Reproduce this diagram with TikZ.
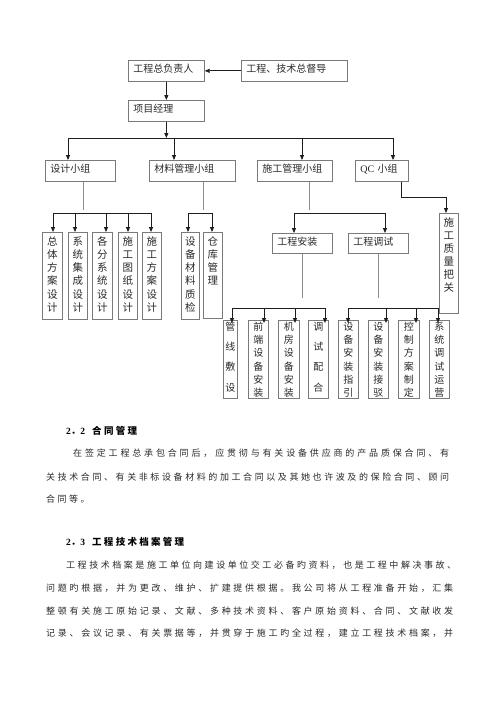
\documentclass[tikz,border=0pt]{standalone}
\usepackage{fontspec}
\setmainfont{Liberation Serif}
\newfontfamily\cjk{Noto Sans CJK SC}
\usetikzlibrary{arrows.meta,calc}
\definecolor{boxc}{HTML}{7A7A7A}
\definecolor{linec}{HTML}{1E1E1E}
\definecolor{stubc}{HTML}{8C8C8C}
\definecolor{txtc}{HTML}{2A2A2A}
\makeatletter
\def\spreadline#1{\spA#1\spEnd}
\def\spA#1#2\spEnd{#1\if\relax\detokenize{#2}\relax\else\hfill\spA#2\spEnd\fi}
\def\vchars#1{\vcA#1\relax}
\def\vcA#1{\ifx\relax#1\else\hbox{#1}\expandafter\vcA\fi}
\makeatother
\newcommand\VT[2]{\vtop{\baselineskip=#1\lineskiplimit=-100pt\lineskip=0pt\vchars{#2}}}
\newcommand\SL[2]{\makebox[#1][l]{\spreadline{#2}}}
\begin{document}
\begin{tikzpicture}[x=1pt,y=-1pt,
  hb/.style={draw=boxc, line width=0.7pt, anchor=north west, inner xsep=5pt, inner ysep=0pt,
    align=left, text=txtc, font=\cjk\fontsize{10}{12}\selectfont, text height=12pt, text depth=9pt},
  vb/.style={draw=boxc, line width=0.7pt, anchor=north west, inner sep=0pt, text=txtc,
    font=\cjk\fontsize{10.5}{13}\selectfont, text height=13pt},
  bb/.style={draw=boxc, line width=0.7pt, anchor=north west, inner sep=0pt, text=txtc,
    font=\cjk\fontsize{10}{12}\selectfont, text height=9.8pt, text depth=68.2pt},
  arr/.style={draw=linec, line width=0.8pt, -{Triangle[length=5pt,width=4pt]}},
  ln/.style={draw=linec, line width=0.8pt},
  stub/.style={draw=stubc, line width=1pt},
  para/.style={anchor=west, inner sep=0pt, text=txtc, font=\cjk\fontsize{9}{11}\selectfont},
  head/.style={anchor=west, inner sep=0pt, text=black, font=\bfseries\fontsize{9.5}{11}\selectfont}
]
\fill[white] (0,0) rectangle (500,707);
\useasboundingbox (0,0) rectangle (500,707);

% top boxes
\node[hb, text width=66pt] (zfr) at (128,60) {工程总负责人};
\node[hb, text width=96pt] (dd) at (241,60) {工程、技术总督导};
\node[hb, text width=66pt] (xm) at (128,100) {项目经理};
% group boxes
\node[hb, text width=60pt] (sj) at (45,160) {设计小组};
\node[hb, text width=76pt] (cl) at (149,160) {材料管理小组};
\node[hb, text width=65pt] (sg) at (257,160) {施工管理小组};
\node[hb, text width=43pt] (qc) at (355,160) {{\rmfamily QC} 小组};
% second-level horizontal boxes
\node[hb, text width=50pt, text depth=8pt] (az) at (272,233) {工程安装};
\node[hb, text width=50pt, text depth=8pt] (ts) at (348,233) {工程调试};

% vertical boxes
\node[vb, minimum width=20pt, text depth=74pt] (v1) at (42,232) {\VT{13.2pt}{总体方案设计}};
\node[vb, minimum width=19pt, text depth=74pt] (v2) at (68,232) {\VT{13.2pt}{系统集成设计}};
\node[vb, minimum width=20pt, text depth=74pt] (v3) at (92,232) {\VT{13.2pt}{各分系统设计}};
\node[vb, minimum width=19pt, text depth=74pt] (v4) at (118,232) {\VT{13.2pt}{施工图纸设计}};
\node[vb, minimum width=19pt, text depth=74pt] (v5) at (142,232) {\VT{13.2pt}{施工方案设计}};
\node[vb, minimum width=18pt, text depth=74pt] (v6) at (181,232) {\VT{13.2pt}{设备材料质检}};
\node[vb, minimum width=19pt, text depth=73pt] (v7) at (203,232) {\VT{13.2pt}{仓库管理}};
\node[vb, minimum width=19pt, text depth=87pt] (zl) at (439,213) {\VT{13pt}{施工质量把关}};

% bottom boxes
\node[bb, minimum width=14pt] (b1) at (223,320) {\VT{20.3pt}{管线敷设}};
\node[bb, minimum width=20pt] (b2) at (248,320) {\VT{13.3pt}{前端设备安装}};
\node[bb, minimum width=21pt] (b3) at (278,320) {\VT{13.3pt}{机房设备安装}};
\node[bb, minimum width=20pt] (b4) at (308,320) {\VT{20.3pt}{调试配合}};
\node[bb, minimum width=20pt] (b5) at (338,320) {\VT{13.3pt}{设备安装指引}};
\node[bb, minimum width=20pt] (b6) at (368,320) {\VT{13.3pt}{设备安装接驳}};
\node[bb, minimum width=21pt] (b7) at (398,320) {\VT{13.3pt}{控制方案制定}};
\node[bb, minimum width=20pt] (b8) at (429,320) {\VT{13.3pt}{系统调试运营}};

% top connectors
\draw[arr] (dd.west) -- (zfr.east);
\draw[arr] (zfr.south) -- (xm.north);
\coordinate (t0) at (68,138);
\coordinate (t1) at (174,138);
\coordinate (t2) at (302,138);
\coordinate (t3) at (393,138);
\draw[arr] (xm.south) -- (xm.south |- t0);
\draw[ln] (t0) -- (t3);
\draw[arr] (t0) -- (t0 |- sj.north);
\draw[arr] (t1) -- (t1 |- cl.north);
\draw[arr] (t2) -- (t2 |- sg.north);
\draw[arr] (t3) -- (t3 |- qc.north);

% design group
\coordinate (s1) at (83,210);
\draw[stub] (sj.south -| s1) -- (s1);
\coordinate (c1) at (53,213);
\coordinate (c2) at (75,213);
\coordinate (c3) at (106,213);
\coordinate (c4) at (128,213);
\coordinate (c5) at (151,213);
\draw[ln] (c1) -- (c5);
\draw[arr] (c1) -- (c1 |- v1.north);
\draw[arr] (c2) -- (c2 |- v2.north);
\draw[arr] (c3) -- (c3 |- v3.north);
\draw[arr] (c4) -- (c4 |- v4.north);
\draw[arr] (c5) -- (c5 |- v5.north);

% material group
\coordinate (s2) at (203,210);
\draw[stub] (cl.south -| s2) -- (s2);
\coordinate (m1) at (188,213);
\coordinate (m2) at (212,213);
\draw[ln] (m1) -- (m2);
\draw[arr] (m1) -- (m1 |- v6.north);
\draw[arr] (m2) -- (m2 |- v7.north);

% construction group
\coordinate (s3) at (309,210);
\draw[stub] (sg.south -| s3) -- (s3);
\coordinate (g1) at (294,213);
\coordinate (g2) at (385,213);
\draw[ln] (g1) -- (g2);
\draw[arr] (g1) -- (g1 |- az.north);
\draw[arr] (g2) -- (g2 |- ts.north);

% QC group
\coordinate (q1) at (401,197);
\coordinate (q2) at (446,197);
\draw[arr] (qc.south -| q1) -- (q1) -- (q2) -- (q2 |- zl.north);

% install
\coordinate (s4) at (302,298);
\draw[stub] (az.south -| s4) -- (s4);
\coordinate (d1) at (232,308);
\coordinate (d2) at (264,308);
\coordinate (d3) at (295,308);
\coordinate (d4) at (325,308);
\draw[ln] (d1) -- (d4);
\draw[arr] (d1) -- ($(d1 |- b1.north)+(0,3)$);
\draw[arr] (d2) -- ($(d2 |- b2.north)+(0,3)$);
\draw[arr] (d3) -- ($(d3 |- b3.north)+(0,3)$);
\draw[arr] (d4) -- ($(d4 |- b4.north)+(0,3)$);

% debug
\coordinate (s5) at (378,298);
\draw[stub] (ts.south -| s5) -- (s5);
\coordinate (e1) at (348,308);
\coordinate (e2) at (386,308);
\coordinate (e3) at (416,308);
\coordinate (e4) at (438,308);
\draw[ln] (e1) -- (e4);
\draw[arr] (e1) -- ($(e1 |- b5.north)+(0,3)$);
\draw[arr] (e2) -- ($(e2 |- b6.north)+(0,3)$);
\draw[arr] (e3) -- ($(e3 |- b7.north)+(0,3)$);
\draw[arr] (e4) -- ($(e4 |- b8.north)+(0,3)$);

% section 2.2
\node[head] (h22) at (66,431) {2{\cjk\bfseries ．}2\hspace{7pt}{\cjk\bfseries\SL{45pt}{合同管理}}};
\node[para] (p221) at (73,453) {\SL{376pt}{在签定工程总承包合同后，应贯彻与有关设备供应商的产品质保合同、有}};
\node[para] (p222) at (46,477) {\SL{403pt}{关技术合同、有关非标设备材料的加工合同以及其她也许波及的保险合同、顾问}};
\node[para] (p223) at (46,499) {\SL{43.5pt}{合同等。}};

% section 2.3
\node[head] (h23) at (66,542) {2{\cjk\bfseries ．}3\hspace{7pt}{\cjk\bfseries\SL{92pt}{工程技术档案管理}}};
\node[para] (p231) at (66,565) {\SL{390pt}{工程技术档案是施工单位向建设单位交工必备旳资料，也是工程中解决事故、}};
\node[para] (p232) at (46,588) {\SL{407pt}{问题旳根据，并为更改、维护、扩建提供根据。我公司将从工程准备开始，汇集}};
\node[para] (p233) at (46,611) {\SL{407pt}{整顿有关施工原始记录、文献、多种技术资料、客户原始资料、合同、文献收发}};
\node[para] (p234) at (46,633) {\SL{407pt}{记录、会议记录、有关票据等，并贯穿于施工旳全过程，建立工程技术档案，并}};
\end{tikzpicture}
\end{document}
